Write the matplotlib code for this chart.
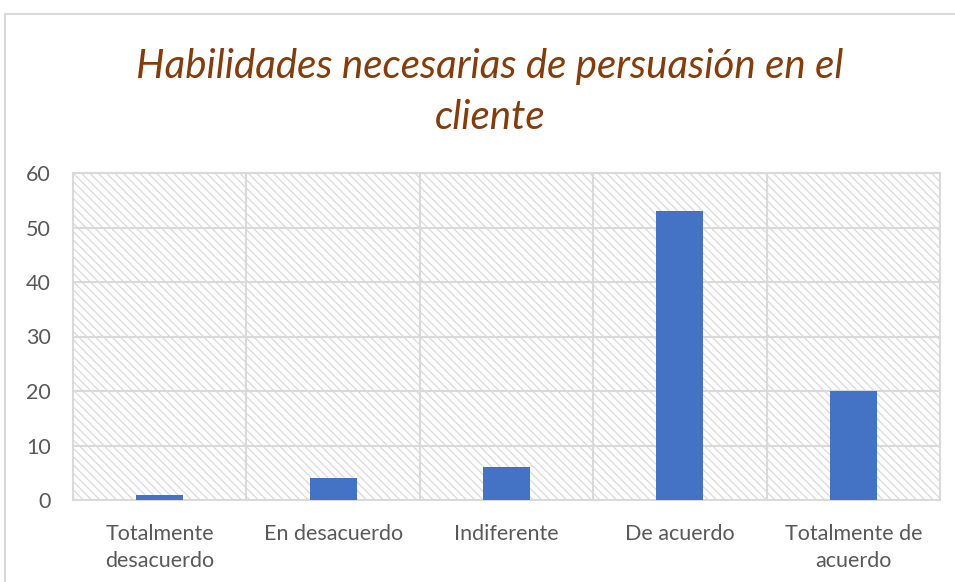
import matplotlib
matplotlib.use("Agg")
import matplotlib.pyplot as plt
from matplotlib.patches import Rectangle

categories = ["Totalmente\ndesacuerdo", "En desacuerdo", "Indiferente", "De acuerdo", "Totalmente de\nacuerdo"]
values = [1, 4, 6, 53, 20]
yticks = [0, 10, 20, 30, 40, 50, 60]
title = "Habilidades necesarias de persuasión en el\ncliente"

plt.rcParams['font.family'] = ['Lato', 'DejaVu Sans']
plt.rcParams['hatch.linewidth'] = 0.9
plt.rcParams['hatch.color'] = '#DADADA'

fig = plt.figure(figsize=(9.55, 5.82), dpi=100)
fig.patch.set_facecolor('white')
fig.patches.append(Rectangle((5/955, -0.1), 1.2, (582-14)/582 + 0.1, transform=fig.transFigure,
                             fill=False, edgecolor='#D9D9D9', linewidth=1.5))

ax = fig.add_axes([73/955, 82/582, (940-73)/955, (500-173)/582])
ax.patch.set_facecolor('white')
ax.patch.set_hatch('\\\\\\\\')
ax.patch.set_edgecolor('#DADADA')

x = range(len(categories))
ax.bar(x, values, width=0.27, color='#4472C4', zorder=3)
ax.set_xlim(-0.5, len(categories) - 0.5)
ax.set_ylim(0, 60)
ax.set_yticks(yticks)
ax.set_xticks(list(x))
ax.set_xticklabels(categories, fontsize=15.5, color='#595959', linespacing=1.45)
ax.set_yticklabels([str(v) for v in yticks], fontsize=15.5, color='#595959')
ax.tick_params(length=0)
ax.tick_params(axis='y', pad=16)
ax.tick_params(axis='x', pad=17)
for v in yticks:
    ax.axhline(v, color='#D9D9D9', linewidth=1.5, zorder=1)
for b in [0.5, 1.5, 2.5, 3.5]:
    ax.axvline(b, color='#D9D9D9', linewidth=1.5, zorder=1)
for s in ax.spines.values():
    s.set_color('#D9D9D9')
    s.set_linewidth(1.5)

fig.text(490/955, 1 - 92/582, title, ha='center', va='center', fontsize=29, style='italic',
         color='#843C0C', linespacing=1.45)

fig.savefig("out.png", dpi=100)
